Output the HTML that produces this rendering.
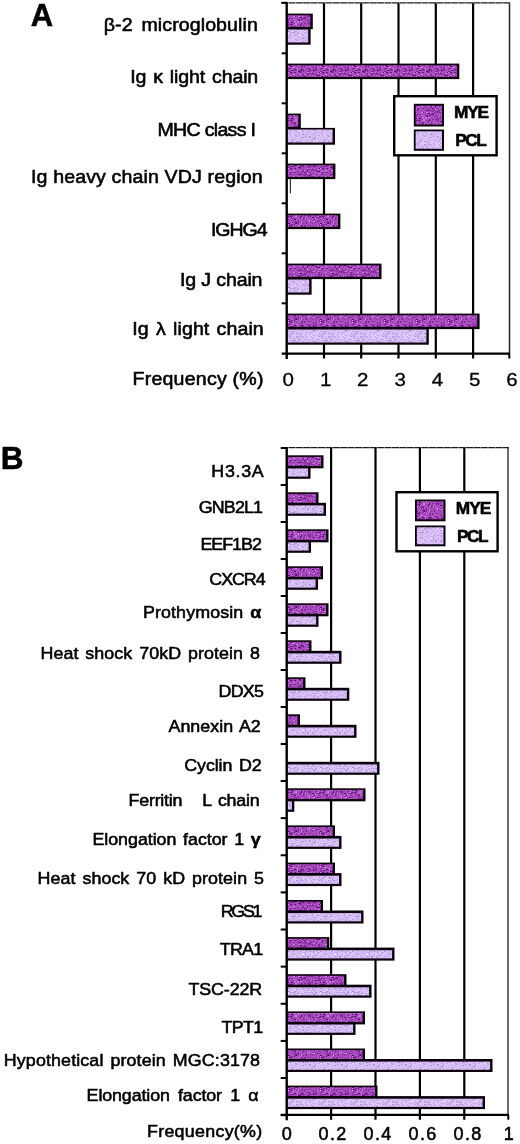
<!DOCTYPE html>
<html lang="en"><head><meta charset="utf-8"><title>Figure</title>
<style>html,body{margin:0;padding:0;background:#fff}body{width:520px;height:1144px;overflow:hidden}text{stroke:#000;stroke-width:.55px;stroke-linejoin:round}text.d{stroke-width:.3px}</style></head>
<body>
<svg width="520" height="1144" viewBox="0 0 520 1144" style="display:block">
<defs>
<pattern id="mye" width="32" height="32" patternUnits="userSpaceOnUse"><rect width="32" height="32" fill="#aa4cc0"/><rect x="20" y="9" width="1" height="1" fill="#7a2890"/><rect x="4" y="6" width="1" height="1" fill="#9a40b4"/><rect x="13" y="2" width="2" height="1" fill="#7c2a94"/><rect x="26" y="4" width="1" height="1" fill="#d088e4"/><rect x="27" y="3" width="1" height="1" fill="#7c2a94"/><rect x="3" y="25" width="1" height="1" fill="#6c1c84"/><rect x="2" y="8" width="2" height="1" fill="#c070d8"/><rect x="9" y="7" width="1" height="1" fill="#c070d8"/><rect x="6" y="12" width="1" height="1" fill="#9a40b4"/><rect x="4" y="3" width="2" height="1" fill="#d088e4"/><rect x="27" y="20" width="2" height="1" fill="#5a1272"/><rect x="23" y="19" width="1" height="1" fill="#d088e4"/><rect x="15" y="5" width="2" height="1" fill="#c070d8"/><rect x="21" y="28" width="1" height="1" fill="#c070d8"/><rect x="7" y="26" width="1" height="1" fill="#8a34a0"/><rect x="9" y="31" width="1" height="1" fill="#7a2890"/><rect x="4" y="20" width="1" height="1" fill="#9a40b4"/><rect x="31" y="29" width="1" height="1" fill="#7c2a94"/><rect x="17" y="30" width="1" height="1" fill="#7c2a94"/><rect x="19" y="28" width="2" height="1" fill="#c070d8"/><rect x="22" y="1" width="1" height="1" fill="#5a1272"/><rect x="10" y="7" width="1" height="1" fill="#5a1272"/><rect x="13" y="18" width="1" height="1" fill="#8a34a0"/><rect x="25" y="25" width="1" height="1" fill="#5a1272"/><rect x="10" y="28" width="1" height="1" fill="#7a2890"/><rect x="8" y="27" width="1" height="1" fill="#b860d0"/><rect x="26" y="22" width="1" height="1" fill="#7a2890"/><rect x="9" y="5" width="1" height="1" fill="#8a34a0"/><rect x="14" y="14" width="2" height="1" fill="#6c1c84"/><rect x="11" y="16" width="1" height="1" fill="#c070d8"/><rect x="9" y="26" width="1" height="1" fill="#b860d0"/><rect x="20" y="8" width="1" height="1" fill="#b860d0"/><rect x="29" y="25" width="2" height="1" fill="#7a2890"/><rect x="25" y="6" width="2" height="1" fill="#5a1272"/><rect x="3" y="12" width="1" height="1" fill="#7c2a94"/><rect x="28" y="10" width="1" height="1" fill="#7c2a94"/><rect x="3" y="6" width="1" height="1" fill="#6c1c84"/><rect x="6" y="23" width="1" height="1" fill="#6c1c84"/><rect x="13" y="24" width="1" height="1" fill="#8a34a0"/><rect x="22" y="23" width="1" height="1" fill="#5a1272"/><rect x="7" y="31" width="2" height="1" fill="#5a1272"/><rect x="30" y="19" width="1" height="1" fill="#7c2a94"/><rect x="6" y="21" width="2" height="1" fill="#c070d8"/><rect x="10" y="1" width="1" height="1" fill="#d088e4"/><rect x="9" y="1" width="1" height="1" fill="#b860d0"/><rect x="5" y="16" width="1" height="1" fill="#b860d0"/><rect x="10" y="22" width="1" height="1" fill="#d088e4"/><rect x="14" y="12" width="2" height="1" fill="#d088e4"/><rect x="14" y="12" width="2" height="1" fill="#b860d0"/><rect x="22" y="1" width="1" height="1" fill="#6c1c84"/><rect x="30" y="16" width="1" height="1" fill="#d088e4"/><rect x="28" y="22" width="1" height="1" fill="#9a40b4"/><rect x="14" y="6" width="2" height="1" fill="#d088e4"/><rect x="12" y="21" width="2" height="1" fill="#d088e4"/><rect x="0" y="30" width="1" height="1" fill="#9a40b4"/><rect x="7" y="24" width="2" height="1" fill="#d088e4"/><rect x="11" y="27" width="1" height="1" fill="#9a40b4"/><rect x="25" y="29" width="1" height="1" fill="#7a2890"/><rect x="10" y="10" width="1" height="1" fill="#8a34a0"/><rect x="9" y="29" width="2" height="1" fill="#8a34a0"/><rect x="22" y="9" width="1" height="1" fill="#b860d0"/><rect x="1" y="0" width="1" height="1" fill="#7c2a94"/><rect x="27" y="12" width="1" height="1" fill="#d088e4"/><rect x="16" y="13" width="1" height="1" fill="#c070d8"/><rect x="20" y="16" width="2" height="1" fill="#b860d0"/><rect x="8" y="3" width="2" height="1" fill="#9a40b4"/><rect x="26" y="8" width="1" height="1" fill="#b860d0"/><rect x="1" y="28" width="1" height="1" fill="#8a34a0"/><rect x="9" y="11" width="2" height="1" fill="#8a34a0"/><rect x="7" y="3" width="2" height="1" fill="#9a40b4"/><rect x="6" y="3" width="1" height="1" fill="#d088e4"/><rect x="17" y="2" width="2" height="1" fill="#7c2a94"/><rect x="1" y="4" width="1" height="1" fill="#5a1272"/><rect x="12" y="17" width="2" height="1" fill="#5a1272"/><rect x="15" y="16" width="1" height="1" fill="#b860d0"/><rect x="28" y="8" width="1" height="1" fill="#7a2890"/><rect x="25" y="28" width="1" height="1" fill="#9a40b4"/><rect x="15" y="27" width="1" height="1" fill="#7c2a94"/><rect x="19" y="7" width="1" height="1" fill="#8a34a0"/><rect x="9" y="16" width="2" height="1" fill="#8a34a0"/><rect x="14" y="6" width="2" height="1" fill="#7a2890"/><rect x="10" y="14" width="2" height="1" fill="#8a34a0"/><rect x="25" y="21" width="1" height="1" fill="#7a2890"/><rect x="22" y="20" width="1" height="1" fill="#7c2a94"/><rect x="1" y="21" width="2" height="1" fill="#b860d0"/><rect x="28" y="1" width="1" height="1" fill="#7a2890"/><rect x="18" y="4" width="1" height="1" fill="#7c2a94"/><rect x="6" y="5" width="1" height="1" fill="#c070d8"/><rect x="2" y="11" width="1" height="1" fill="#c070d8"/><rect x="27" y="16" width="1" height="1" fill="#7a2890"/><rect x="31" y="20" width="1" height="1" fill="#7c2a94"/><rect x="3" y="11" width="1" height="1" fill="#7a2890"/><rect x="17" y="1" width="1" height="1" fill="#7c2a94"/><rect x="5" y="14" width="1" height="1" fill="#7c2a94"/><rect x="7" y="29" width="1" height="1" fill="#6c1c84"/><rect x="26" y="17" width="1" height="1" fill="#8a34a0"/><rect x="15" y="7" width="1" height="1" fill="#8a34a0"/><rect x="3" y="11" width="1" height="1" fill="#d088e4"/><rect x="19" y="13" width="2" height="1" fill="#c070d8"/><rect x="11" y="17" width="1" height="1" fill="#9a40b4"/><rect x="16" y="2" width="1" height="1" fill="#6c1c84"/><rect x="12" y="30" width="2" height="1" fill="#d088e4"/><rect x="6" y="27" width="2" height="1" fill="#5a1272"/><rect x="19" y="13" width="1" height="1" fill="#d088e4"/><rect x="12" y="8" width="1" height="1" fill="#7a2890"/><rect x="3" y="8" width="1" height="1" fill="#6c1c84"/><rect x="16" y="27" width="1" height="1" fill="#8a34a0"/><rect x="5" y="24" width="1" height="1" fill="#b860d0"/><rect x="15" y="18" width="2" height="1" fill="#6c1c84"/><rect x="11" y="10" width="2" height="1" fill="#c070d8"/><rect x="0" y="16" width="1" height="1" fill="#9a40b4"/><rect x="20" y="15" width="1" height="1" fill="#6c1c84"/><rect x="13" y="22" width="1" height="1" fill="#8a34a0"/><rect x="21" y="24" width="2" height="1" fill="#7c2a94"/><rect x="17" y="12" width="1" height="1" fill="#d088e4"/><rect x="5" y="16" width="1" height="1" fill="#7c2a94"/><rect x="25" y="2" width="1" height="1" fill="#7a2890"/><rect x="19" y="19" width="1" height="1" fill="#d088e4"/><rect x="9" y="24" width="2" height="1" fill="#9a40b4"/><rect x="9" y="18" width="1" height="1" fill="#8a34a0"/><rect x="27" y="8" width="1" height="1" fill="#b860d0"/><rect x="14" y="5" width="1" height="1" fill="#6c1c84"/><rect x="8" y="23" width="2" height="1" fill="#7c2a94"/><rect x="28" y="3" width="1" height="1" fill="#6c1c84"/><rect x="31" y="16" width="2" height="1" fill="#6c1c84"/><rect x="4" y="5" width="1" height="1" fill="#b860d0"/><rect x="30" y="16" width="1" height="1" fill="#7c2a94"/><rect x="15" y="13" width="2" height="1" fill="#d088e4"/><rect x="31" y="24" width="2" height="1" fill="#7c2a94"/><rect x="18" y="2" width="1" height="1" fill="#d088e4"/><rect x="9" y="21" width="1" height="1" fill="#c070d8"/><rect x="8" y="0" width="1" height="1" fill="#5a1272"/><rect x="31" y="17" width="1" height="1" fill="#7c2a94"/><rect x="31" y="18" width="1" height="1" fill="#b860d0"/><rect x="29" y="29" width="1" height="1" fill="#5a1272"/><rect x="12" y="19" width="2" height="1" fill="#7c2a94"/><rect x="1" y="18" width="1" height="1" fill="#5a1272"/><rect x="28" y="17" width="1" height="1" fill="#7a2890"/><rect x="13" y="4" width="1" height="1" fill="#7c2a94"/><rect x="16" y="23" width="1" height="1" fill="#8a34a0"/><rect x="7" y="23" width="2" height="1" fill="#d088e4"/><rect x="31" y="25" width="1" height="1" fill="#6c1c84"/><rect x="0" y="31" width="2" height="1" fill="#5a1272"/><rect x="19" y="9" width="1" height="1" fill="#7a2890"/><rect x="24" y="20" width="1" height="1" fill="#7c2a94"/><rect x="0" y="20" width="2" height="1" fill="#9a40b4"/><rect x="7" y="12" width="1" height="1" fill="#6c1c84"/><rect x="16" y="23" width="2" height="1" fill="#7c2a94"/><rect x="24" y="4" width="2" height="1" fill="#9a40b4"/><rect x="17" y="3" width="1" height="1" fill="#c070d8"/><rect x="3" y="18" width="1" height="1" fill="#8a34a0"/><rect x="17" y="27" width="1" height="1" fill="#b860d0"/><rect x="12" y="23" width="1" height="1" fill="#7a2890"/><rect x="25" y="13" width="1" height="1" fill="#7c2a94"/><rect x="26" y="28" width="1" height="1" fill="#8a34a0"/><rect x="31" y="3" width="1" height="1" fill="#b860d0"/><rect x="10" y="30" width="1" height="1" fill="#7a2890"/><rect x="18" y="19" width="1" height="1" fill="#c070d8"/><rect x="25" y="15" width="2" height="1" fill="#c070d8"/><rect x="25" y="7" width="1" height="1" fill="#8a34a0"/><rect x="4" y="13" width="2" height="1" fill="#b860d0"/><rect x="14" y="28" width="2" height="1" fill="#9a40b4"/><rect x="27" y="8" width="1" height="1" fill="#b860d0"/><rect x="15" y="5" width="1" height="1" fill="#8a34a0"/><rect x="5" y="20" width="1" height="1" fill="#d088e4"/><rect x="16" y="12" width="2" height="1" fill="#6c1c84"/><rect x="24" y="26" width="1" height="1" fill="#b860d0"/><rect x="24" y="17" width="1" height="1" fill="#9a40b4"/><rect x="31" y="17" width="1" height="1" fill="#9a40b4"/><rect x="13" y="5" width="1" height="1" fill="#c070d8"/><rect x="24" y="25" width="2" height="1" fill="#5a1272"/><rect x="19" y="1" width="1" height="1" fill="#8a34a0"/><rect x="27" y="30" width="1" height="1" fill="#5a1272"/><rect x="4" y="25" width="2" height="1" fill="#b860d0"/><rect x="28" y="15" width="1" height="1" fill="#7c2a94"/><rect x="9" y="9" width="1" height="1" fill="#b860d0"/><rect x="29" y="5" width="1" height="1" fill="#b860d0"/><rect x="0" y="8" width="1" height="1" fill="#d088e4"/><rect x="19" y="8" width="2" height="1" fill="#c070d8"/><rect x="7" y="6" width="1" height="1" fill="#7c2a94"/><rect x="12" y="24" width="1" height="1" fill="#c070d8"/><rect x="0" y="0" width="1" height="1" fill="#b860d0"/><rect x="29" y="17" width="1" height="1" fill="#9a40b4"/><rect x="30" y="15" width="1" height="1" fill="#b860d0"/><rect x="1" y="26" width="1" height="1" fill="#c070d8"/><rect x="1" y="12" width="2" height="1" fill="#5a1272"/><rect x="5" y="16" width="2" height="1" fill="#d088e4"/><rect x="23" y="14" width="1" height="1" fill="#5a1272"/><rect x="21" y="26" width="2" height="1" fill="#9a40b4"/><rect x="12" y="0" width="1" height="1" fill="#c070d8"/><rect x="13" y="31" width="1" height="1" fill="#d088e4"/><rect x="12" y="14" width="1" height="1" fill="#5a1272"/><rect x="16" y="18" width="2" height="1" fill="#7c2a94"/><rect x="11" y="14" width="2" height="1" fill="#5a1272"/><rect x="3" y="9" width="1" height="1" fill="#7a2890"/><rect x="13" y="1" width="2" height="1" fill="#8a34a0"/><rect x="3" y="3" width="2" height="1" fill="#8a34a0"/><rect x="28" y="20" width="1" height="1" fill="#7c2a94"/><rect x="10" y="21" width="1" height="1" fill="#d088e4"/><rect x="29" y="2" width="2" height="1" fill="#c070d8"/><rect x="23" y="21" width="1" height="1" fill="#5a1272"/><rect x="6" y="0" width="1" height="1" fill="#7c2a94"/><rect x="5" y="22" width="1" height="1" fill="#7a2890"/><rect x="13" y="24" width="1" height="1" fill="#9a40b4"/><rect x="27" y="5" width="2" height="1" fill="#6c1c84"/><rect x="12" y="23" width="2" height="1" fill="#b860d0"/><rect x="12" y="20" width="2" height="1" fill="#9a40b4"/><rect x="1" y="26" width="2" height="1" fill="#d088e4"/><rect x="2" y="24" width="2" height="1" fill="#6c1c84"/><rect x="4" y="3" width="1" height="1" fill="#c070d8"/><rect x="4" y="21" width="1" height="1" fill="#9a40b4"/><rect x="21" y="2" width="1" height="1" fill="#c070d8"/><rect x="17" y="19" width="1" height="1" fill="#6c1c84"/><rect x="1" y="14" width="2" height="1" fill="#7c2a94"/><rect x="29" y="24" width="2" height="1" fill="#c070d8"/><rect x="31" y="8" width="1" height="1" fill="#5a1272"/><rect x="0" y="19" width="1" height="1" fill="#8a34a0"/><rect x="20" y="20" width="1" height="1" fill="#5a1272"/><rect x="5" y="12" width="1" height="1" fill="#7a2890"/><rect x="15" y="26" width="1" height="1" fill="#7c2a94"/><rect x="30" y="20" width="2" height="1" fill="#8a34a0"/><rect x="6" y="4" width="1" height="1" fill="#c070d8"/><rect x="13" y="6" width="2" height="1" fill="#7a2890"/><rect x="28" y="11" width="1" height="1" fill="#d088e4"/><rect x="26" y="29" width="1" height="1" fill="#d088e4"/><rect x="18" y="18" width="1" height="1" fill="#c070d8"/><rect x="23" y="16" width="1" height="1" fill="#c070d8"/><rect x="28" y="15" width="1" height="1" fill="#8a34a0"/><rect x="15" y="9" width="1" height="1" fill="#c070d8"/><rect x="20" y="4" width="1" height="1" fill="#7a2890"/><rect x="15" y="14" width="2" height="1" fill="#7c2a94"/><rect x="2" y="6" width="2" height="1" fill="#6c1c84"/><rect x="14" y="28" width="1" height="1" fill="#9a40b4"/><rect x="18" y="14" width="1" height="1" fill="#7c2a94"/><rect x="12" y="12" width="1" height="1" fill="#7c2a94"/><rect x="11" y="28" width="1" height="1" fill="#c070d8"/><rect x="6" y="22" width="1" height="1" fill="#d088e4"/><rect x="23" y="21" width="1" height="1" fill="#8a34a0"/><rect x="13" y="16" width="1" height="1" fill="#6c1c84"/><rect x="0" y="20" width="1" height="1" fill="#7a2890"/><rect x="11" y="19" width="1" height="1" fill="#7c2a94"/><rect x="2" y="31" width="2" height="1" fill="#b860d0"/><rect x="4" y="26" width="2" height="1" fill="#7c2a94"/><rect x="9" y="5" width="2" height="1" fill="#8a34a0"/><rect x="17" y="26" width="1" height="1" fill="#c070d8"/><rect x="26" y="3" width="1" height="1" fill="#c070d8"/><rect x="26" y="26" width="1" height="1" fill="#6c1c84"/><rect x="12" y="25" width="1" height="1" fill="#7a2890"/><rect x="0" y="27" width="2" height="1" fill="#8a34a0"/><rect x="7" y="5" width="1" height="1" fill="#7a2890"/><rect x="29" y="10" width="1" height="1" fill="#8a34a0"/><rect x="3" y="9" width="1" height="1" fill="#7a2890"/><rect x="23" y="10" width="1" height="1" fill="#8a34a0"/><rect x="18" y="10" width="1" height="1" fill="#b860d0"/><rect x="4" y="6" width="2" height="1" fill="#7a2890"/><rect x="12" y="19" width="1" height="1" fill="#8a34a0"/><rect x="30" y="20" width="2" height="1" fill="#6c1c84"/><rect x="5" y="10" width="2" height="1" fill="#d088e4"/><rect x="12" y="30" width="1" height="1" fill="#8a34a0"/><rect x="2" y="25" width="1" height="1" fill="#b860d0"/><rect x="24" y="22" width="1" height="1" fill="#7c2a94"/><rect x="15" y="12" width="1" height="1" fill="#6c1c84"/><rect x="20" y="7" width="2" height="1" fill="#7a2890"/><rect x="19" y="26" width="1" height="1" fill="#c070d8"/><rect x="27" y="24" width="2" height="1" fill="#9a40b4"/><rect x="28" y="11" width="1" height="1" fill="#6c1c84"/><rect x="31" y="29" width="2" height="1" fill="#d088e4"/><rect x="29" y="11" width="2" height="1" fill="#5a1272"/><rect x="6" y="4" width="1" height="1" fill="#8a34a0"/><rect x="27" y="23" width="2" height="1" fill="#7c2a94"/><rect x="2" y="2" width="1" height="1" fill="#8a34a0"/><rect x="20" y="5" width="2" height="1" fill="#6c1c84"/><rect x="8" y="1" width="1" height="1" fill="#7c2a94"/><rect x="12" y="8" width="1" height="1" fill="#5a1272"/><rect x="10" y="14" width="1" height="1" fill="#7c2a94"/><rect x="16" y="10" width="1" height="1" fill="#9a40b4"/><rect x="29" y="9" width="2" height="1" fill="#c070d8"/><rect x="13" y="16" width="1" height="1" fill="#b860d0"/><rect x="20" y="23" width="1" height="1" fill="#6c1c84"/><rect x="11" y="25" width="1" height="1" fill="#8a34a0"/><rect x="20" y="24" width="1" height="1" fill="#8a34a0"/><rect x="7" y="3" width="2" height="1" fill="#9a40b4"/><rect x="6" y="16" width="2" height="1" fill="#b860d0"/><rect x="23" y="16" width="1" height="1" fill="#7a2890"/><rect x="9" y="23" width="1" height="1" fill="#9a40b4"/><rect x="28" y="14" width="1" height="1" fill="#8a34a0"/><rect x="18" y="16" width="1" height="1" fill="#c070d8"/><rect x="0" y="2" width="1" height="1" fill="#d088e4"/><rect x="18" y="27" width="1" height="1" fill="#7a2890"/><rect x="3" y="8" width="1" height="1" fill="#5a1272"/><rect x="2" y="1" width="1" height="1" fill="#6c1c84"/><rect x="22" y="19" width="1" height="1" fill="#7c2a94"/><rect x="14" y="26" width="1" height="1" fill="#c070d8"/><rect x="13" y="23" width="1" height="1" fill="#5a1272"/><rect x="8" y="0" width="1" height="1" fill="#d088e4"/><rect x="28" y="6" width="1" height="1" fill="#7c2a94"/><rect x="17" y="25" width="1" height="1" fill="#c070d8"/><rect x="3" y="22" width="2" height="1" fill="#5a1272"/><rect x="15" y="10" width="1" height="1" fill="#6c1c84"/><rect x="3" y="1" width="1" height="1" fill="#7a2890"/><rect x="15" y="10" width="1" height="1" fill="#6c1c84"/><rect x="0" y="12" width="2" height="1" fill="#8a34a0"/><rect x="12" y="26" width="1" height="1" fill="#8a34a0"/><rect x="4" y="19" width="2" height="1" fill="#6c1c84"/><rect x="0" y="24" width="2" height="1" fill="#7a2890"/><rect x="5" y="28" width="1" height="1" fill="#8a34a0"/><rect x="6" y="16" width="1" height="1" fill="#d088e4"/><rect x="7" y="21" width="1" height="1" fill="#c070d8"/><rect x="17" y="27" width="1" height="1" fill="#b860d0"/><rect x="18" y="13" width="1" height="1" fill="#7c2a94"/><rect x="10" y="16" width="1" height="1" fill="#d088e4"/><rect x="10" y="20" width="2" height="1" fill="#d088e4"/><rect x="21" y="15" width="2" height="1" fill="#7a2890"/><rect x="30" y="0" width="2" height="1" fill="#6c1c84"/><rect x="14" y="19" width="2" height="1" fill="#d088e4"/><rect x="4" y="10" width="1" height="1" fill="#8a34a0"/><rect x="1" y="7" width="1" height="1" fill="#7c2a94"/><rect x="22" y="9" width="1" height="1" fill="#6c1c84"/><rect x="2" y="8" width="1" height="1" fill="#6c1c84"/><rect x="2" y="4" width="1" height="1" fill="#9a40b4"/><rect x="4" y="24" width="1" height="1" fill="#7c2a94"/><rect x="13" y="13" width="1" height="1" fill="#7c2a94"/><rect x="2" y="5" width="2" height="1" fill="#c070d8"/><rect x="6" y="8" width="1" height="1" fill="#7c2a94"/><rect x="18" y="20" width="2" height="1" fill="#9a40b4"/><rect x="16" y="1" width="1" height="1" fill="#9a40b4"/><rect x="18" y="3" width="1" height="1" fill="#9a40b4"/><rect x="30" y="18" width="2" height="1" fill="#6c1c84"/><rect x="1" y="27" width="1" height="1" fill="#b860d0"/><rect x="22" y="30" width="1" height="1" fill="#6c1c84"/><rect x="5" y="18" width="2" height="1" fill="#8a34a0"/><rect x="0" y="12" width="1" height="1" fill="#c070d8"/><rect x="0" y="22" width="1" height="1" fill="#5a1272"/><rect x="31" y="11" width="1" height="1" fill="#5a1272"/><rect x="16" y="10" width="1" height="1" fill="#c070d8"/><rect x="14" y="31" width="1" height="1" fill="#8a34a0"/><rect x="5" y="31" width="1" height="1" fill="#b860d0"/><rect x="20" y="22" width="2" height="1" fill="#7c2a94"/><rect x="25" y="5" width="1" height="1" fill="#7a2890"/><rect x="23" y="13" width="1" height="1" fill="#c070d8"/><rect x="27" y="10" width="1" height="1" fill="#7a2890"/><rect x="29" y="8" width="1" height="1" fill="#b860d0"/><rect x="22" y="20" width="1" height="1" fill="#b860d0"/><rect x="28" y="20" width="2" height="1" fill="#8a34a0"/><rect x="28" y="16" width="1" height="1" fill="#d088e4"/><rect x="21" y="29" width="1" height="1" fill="#d088e4"/><rect x="17" y="19" width="1" height="1" fill="#8a34a0"/><rect x="15" y="20" width="1" height="1" fill="#b860d0"/><rect x="10" y="15" width="1" height="1" fill="#9a40b4"/><rect x="16" y="6" width="1" height="1" fill="#8a34a0"/><rect x="12" y="24" width="1" height="1" fill="#8a34a0"/><rect x="19" y="19" width="1" height="1" fill="#7a2890"/><rect x="12" y="6" width="1" height="1" fill="#7c2a94"/><rect x="13" y="24" width="1" height="1" fill="#5a1272"/><rect x="0" y="25" width="1" height="1" fill="#7a2890"/><rect x="18" y="29" width="1" height="1" fill="#6c1c84"/><rect x="16" y="25" width="1" height="1" fill="#6c1c84"/><rect x="27" y="26" width="1" height="1" fill="#d088e4"/><rect x="11" y="7" width="2" height="1" fill="#5a1272"/><rect x="20" y="16" width="2" height="1" fill="#7c2a94"/><rect x="15" y="25" width="1" height="1" fill="#8a34a0"/><rect x="27" y="30" width="1" height="1" fill="#5a1272"/><rect x="26" y="11" width="1" height="1" fill="#9a40b4"/><rect x="24" y="31" width="1" height="1" fill="#7c2a94"/><rect x="16" y="13" width="1" height="1" fill="#8a34a0"/><rect x="22" y="6" width="1" height="1" fill="#5a1272"/><rect x="30" y="1" width="1" height="1" fill="#9a40b4"/><rect x="26" y="29" width="1" height="1" fill="#d088e4"/><rect x="25" y="7" width="1" height="1" fill="#9a40b4"/><rect x="16" y="17" width="2" height="1" fill="#7a2890"/><rect x="3" y="0" width="2" height="1" fill="#7c2a94"/><rect x="26" y="22" width="1" height="1" fill="#c070d8"/><rect x="14" y="19" width="1" height="1" fill="#7a2890"/><rect x="25" y="29" width="1" height="1" fill="#d088e4"/><rect x="8" y="4" width="2" height="1" fill="#d088e4"/><rect x="14" y="9" width="2" height="1" fill="#9a40b4"/><rect x="29" y="18" width="1" height="1" fill="#b860d0"/><rect x="30" y="22" width="1" height="1" fill="#d088e4"/><rect x="24" y="16" width="1" height="1" fill="#7a2890"/><rect x="30" y="0" width="1" height="1" fill="#c070d8"/><rect x="15" y="19" width="2" height="1" fill="#9a40b4"/><rect x="31" y="27" width="1" height="1" fill="#7c2a94"/><rect x="9" y="19" width="1" height="1" fill="#7a2890"/><rect x="5" y="20" width="1" height="1" fill="#8a34a0"/><rect x="0" y="0" width="1" height="1" fill="#d088e4"/><rect x="18" y="16" width="1" height="1" fill="#7c2a94"/><rect x="14" y="11" width="1" height="1" fill="#5a1272"/><rect x="9" y="13" width="1" height="1" fill="#7a2890"/><rect x="5" y="19" width="2" height="1" fill="#d088e4"/><rect x="13" y="5" width="1" height="1" fill="#5a1272"/><rect x="7" y="16" width="1" height="1" fill="#7a2890"/><rect x="8" y="30" width="1" height="1" fill="#5a1272"/><rect x="30" y="29" width="2" height="1" fill="#8a34a0"/><rect x="15" y="31" width="1" height="1" fill="#8a34a0"/><rect x="10" y="20" width="2" height="1" fill="#5a1272"/><rect x="18" y="29" width="2" height="1" fill="#9a40b4"/><rect x="26" y="4" width="1" height="1" fill="#8a34a0"/><rect x="1" y="1" width="1" height="1" fill="#6c1c84"/><rect x="6" y="30" width="1" height="1" fill="#5a1272"/><rect x="2" y="13" width="1" height="1" fill="#7a2890"/><rect x="21" y="6" width="1" height="1" fill="#9a40b4"/><rect x="30" y="13" width="2" height="1" fill="#c070d8"/><rect x="21" y="27" width="1" height="1" fill="#c070d8"/><rect x="18" y="18" width="2" height="1" fill="#9a40b4"/><rect x="25" y="21" width="1" height="1" fill="#b860d0"/><rect x="22" y="13" width="1" height="1" fill="#5a1272"/><rect x="21" y="12" width="1" height="1" fill="#9a40b4"/><rect x="8" y="5" width="2" height="1" fill="#6c1c84"/><rect x="25" y="3" width="1" height="1" fill="#7a2890"/><rect x="6" y="0" width="1" height="1" fill="#6c1c84"/><rect x="30" y="3" width="2" height="1" fill="#b860d0"/><rect x="9" y="5" width="1" height="1" fill="#d088e4"/><rect x="29" y="11" width="1" height="1" fill="#7c2a94"/><rect x="2" y="26" width="1" height="1" fill="#7c2a94"/><rect x="23" y="8" width="1" height="1" fill="#c070d8"/><rect x="19" y="11" width="1" height="1" fill="#7a2890"/><rect x="20" y="1" width="1" height="1" fill="#7a2890"/><rect x="31" y="2" width="2" height="1" fill="#7c2a94"/><rect x="25" y="28" width="1" height="1" fill="#7c2a94"/><rect x="24" y="9" width="2" height="1" fill="#5a1272"/><rect x="6" y="5" width="1" height="1" fill="#5a1272"/><rect x="9" y="0" width="1" height="1" fill="#7a2890"/><rect x="0" y="7" width="1" height="1" fill="#7c2a94"/><rect x="7" y="8" width="1" height="1" fill="#5a1272"/><rect x="17" y="15" width="1" height="1" fill="#5a1272"/><rect x="3" y="23" width="1" height="1" fill="#8a34a0"/><rect x="18" y="31" width="1" height="1" fill="#5a1272"/><rect x="3" y="2" width="1" height="1" fill="#6c1c84"/><rect x="0" y="5" width="1" height="1" fill="#7a2890"/><rect x="19" y="10" width="1" height="1" fill="#5a1272"/></pattern>
<pattern id="pcl" width="32" height="32" patternUnits="userSpaceOnUse"><rect width="32" height="32" fill="#d8c0f7"/><rect x="20" y="23" width="2" height="1" fill="#ceb2f2"/><rect x="30" y="10" width="1" height="1" fill="#c4a8ee"/><rect x="23" y="10" width="2" height="1" fill="#bca0ea"/><rect x="30" y="24" width="2" height="1" fill="#e0d0fa"/><rect x="17" y="21" width="1" height="1" fill="#e8dcfc"/><rect x="3" y="21" width="1" height="1" fill="#e0d0fa"/><rect x="9" y="19" width="2" height="1" fill="#ceb2f2"/><rect x="15" y="24" width="2" height="1" fill="#a888e0"/><rect x="14" y="28" width="1" height="1" fill="#e8dcfc"/><rect x="20" y="16" width="2" height="1" fill="#e8dcfc"/><rect x="10" y="2" width="1" height="1" fill="#e8dcfc"/><rect x="9" y="17" width="2" height="1" fill="#e0d0fa"/><rect x="22" y="5" width="2" height="1" fill="#ceb2f2"/><rect x="24" y="12" width="1" height="1" fill="#e0d0fa"/><rect x="19" y="3" width="2" height="1" fill="#bca0ea"/><rect x="29" y="13" width="1" height="1" fill="#e8dcfc"/><rect x="24" y="29" width="1" height="1" fill="#ceb2f2"/><rect x="22" y="4" width="2" height="1" fill="#c4a8ee"/><rect x="16" y="20" width="1" height="1" fill="#a888e0"/><rect x="12" y="13" width="1" height="1" fill="#c4a8ee"/><rect x="11" y="18" width="1" height="1" fill="#e8dcfc"/><rect x="25" y="9" width="1" height="1" fill="#c4a8ee"/><rect x="31" y="23" width="1" height="1" fill="#e0d0fa"/><rect x="23" y="29" width="1" height="1" fill="#e0d0fa"/><rect x="9" y="20" width="1" height="1" fill="#ceb2f2"/><rect x="22" y="17" width="1" height="1" fill="#ceb2f2"/><rect x="6" y="2" width="2" height="1" fill="#c4a8ee"/><rect x="13" y="16" width="1" height="1" fill="#e0d0fa"/><rect x="27" y="6" width="1" height="1" fill="#a888e0"/><rect x="16" y="2" width="1" height="1" fill="#e8dcfc"/><rect x="11" y="24" width="1" height="1" fill="#b494e6"/><rect x="3" y="2" width="1" height="1" fill="#ceb2f2"/><rect x="29" y="31" width="1" height="1" fill="#e0d0fa"/><rect x="25" y="7" width="1" height="1" fill="#bca0ea"/><rect x="16" y="20" width="1" height="1" fill="#ceb2f2"/><rect x="5" y="25" width="2" height="1" fill="#c4a8ee"/><rect x="10" y="23" width="1" height="1" fill="#c4a8ee"/><rect x="11" y="2" width="1" height="1" fill="#e8dcfc"/><rect x="3" y="1" width="1" height="1" fill="#e0d0fa"/><rect x="16" y="30" width="1" height="1" fill="#b494e6"/><rect x="9" y="20" width="1" height="1" fill="#e0d0fa"/><rect x="12" y="19" width="2" height="1" fill="#ceb2f2"/><rect x="6" y="30" width="1" height="1" fill="#e8dcfc"/><rect x="16" y="24" width="1" height="1" fill="#b494e6"/><rect x="30" y="24" width="2" height="1" fill="#c4a8ee"/><rect x="15" y="9" width="1" height="1" fill="#bca0ea"/><rect x="29" y="12" width="1" height="1" fill="#e0d0fa"/><rect x="10" y="14" width="1" height="1" fill="#b494e6"/><rect x="8" y="28" width="2" height="1" fill="#b494e6"/><rect x="1" y="4" width="1" height="1" fill="#a888e0"/><rect x="20" y="14" width="1" height="1" fill="#a888e0"/><rect x="23" y="9" width="1" height="1" fill="#e8dcfc"/><rect x="3" y="11" width="2" height="1" fill="#bca0ea"/><rect x="9" y="28" width="1" height="1" fill="#e0d0fa"/><rect x="17" y="26" width="1" height="1" fill="#a888e0"/><rect x="9" y="1" width="1" height="1" fill="#e8dcfc"/><rect x="21" y="10" width="2" height="1" fill="#e8dcfc"/><rect x="6" y="20" width="2" height="1" fill="#a888e0"/><rect x="7" y="9" width="1" height="1" fill="#ceb2f2"/><rect x="13" y="30" width="1" height="1" fill="#e0d0fa"/><rect x="7" y="16" width="1" height="1" fill="#e0d0fa"/><rect x="23" y="27" width="1" height="1" fill="#e8dcfc"/><rect x="15" y="6" width="1" height="1" fill="#a888e0"/><rect x="26" y="10" width="1" height="1" fill="#b494e6"/><rect x="9" y="1" width="1" height="1" fill="#a888e0"/><rect x="8" y="28" width="1" height="1" fill="#b494e6"/><rect x="11" y="23" width="1" height="1" fill="#a888e0"/><rect x="26" y="13" width="1" height="1" fill="#e8dcfc"/><rect x="8" y="11" width="1" height="1" fill="#ceb2f2"/><rect x="11" y="12" width="1" height="1" fill="#ceb2f2"/><rect x="5" y="31" width="1" height="1" fill="#e0d0fa"/><rect x="11" y="13" width="1" height="1" fill="#c4a8ee"/><rect x="19" y="12" width="1" height="1" fill="#b494e6"/><rect x="26" y="3" width="1" height="1" fill="#ceb2f2"/><rect x="21" y="18" width="2" height="1" fill="#e0d0fa"/><rect x="5" y="0" width="2" height="1" fill="#a888e0"/><rect x="8" y="17" width="1" height="1" fill="#c4a8ee"/><rect x="23" y="2" width="1" height="1" fill="#c4a8ee"/><rect x="0" y="22" width="2" height="1" fill="#ceb2f2"/><rect x="4" y="7" width="1" height="1" fill="#e8dcfc"/><rect x="20" y="24" width="1" height="1" fill="#ceb2f2"/><rect x="18" y="6" width="2" height="1" fill="#bca0ea"/><rect x="28" y="1" width="1" height="1" fill="#ceb2f2"/><rect x="1" y="15" width="1" height="1" fill="#b494e6"/><rect x="11" y="10" width="1" height="1" fill="#b494e6"/><rect x="16" y="1" width="1" height="1" fill="#b494e6"/><rect x="12" y="16" width="2" height="1" fill="#b494e6"/><rect x="15" y="28" width="1" height="1" fill="#b494e6"/><rect x="6" y="11" width="1" height="1" fill="#b494e6"/><rect x="7" y="29" width="1" height="1" fill="#a888e0"/><rect x="7" y="7" width="2" height="1" fill="#b494e6"/><rect x="8" y="14" width="1" height="1" fill="#e0d0fa"/><rect x="9" y="29" width="2" height="1" fill="#bca0ea"/><rect x="10" y="1" width="2" height="1" fill="#bca0ea"/><rect x="26" y="2" width="1" height="1" fill="#a888e0"/><rect x="23" y="21" width="1" height="1" fill="#a888e0"/><rect x="21" y="27" width="1" height="1" fill="#e0d0fa"/><rect x="25" y="3" width="1" height="1" fill="#e8dcfc"/><rect x="22" y="15" width="2" height="1" fill="#e0d0fa"/><rect x="0" y="23" width="1" height="1" fill="#b494e6"/><rect x="4" y="20" width="1" height="1" fill="#a888e0"/><rect x="1" y="14" width="2" height="1" fill="#c4a8ee"/><rect x="25" y="29" width="1" height="1" fill="#bca0ea"/><rect x="2" y="2" width="1" height="1" fill="#e0d0fa"/><rect x="17" y="2" width="1" height="1" fill="#ceb2f2"/><rect x="16" y="7" width="1" height="1" fill="#ceb2f2"/><rect x="27" y="15" width="1" height="1" fill="#b494e6"/><rect x="7" y="19" width="1" height="1" fill="#e8dcfc"/><rect x="7" y="3" width="1" height="1" fill="#ceb2f2"/><rect x="5" y="29" width="1" height="1" fill="#ceb2f2"/><rect x="28" y="7" width="1" height="1" fill="#ceb2f2"/><rect x="18" y="26" width="1" height="1" fill="#ceb2f2"/><rect x="17" y="15" width="1" height="1" fill="#bca0ea"/><rect x="18" y="29" width="1" height="1" fill="#ceb2f2"/><rect x="24" y="12" width="1" height="1" fill="#ceb2f2"/><rect x="29" y="19" width="2" height="1" fill="#ceb2f2"/><rect x="30" y="19" width="1" height="1" fill="#b494e6"/><rect x="21" y="14" width="2" height="1" fill="#c4a8ee"/><rect x="25" y="0" width="1" height="1" fill="#e8dcfc"/><rect x="15" y="20" width="1" height="1" fill="#ceb2f2"/><rect x="31" y="17" width="1" height="1" fill="#e8dcfc"/><rect x="18" y="3" width="1" height="1" fill="#e0d0fa"/><rect x="10" y="4" width="1" height="1" fill="#ceb2f2"/><rect x="28" y="3" width="2" height="1" fill="#ceb2f2"/><rect x="28" y="22" width="1" height="1" fill="#bca0ea"/><rect x="14" y="9" width="1" height="1" fill="#a888e0"/><rect x="22" y="8" width="1" height="1" fill="#bca0ea"/><rect x="17" y="6" width="2" height="1" fill="#bca0ea"/><rect x="17" y="8" width="1" height="1" fill="#a888e0"/><rect x="0" y="26" width="1" height="1" fill="#e0d0fa"/><rect x="31" y="25" width="1" height="1" fill="#ceb2f2"/><rect x="26" y="17" width="1" height="1" fill="#e0d0fa"/><rect x="24" y="28" width="2" height="1" fill="#bca0ea"/><rect x="18" y="22" width="1" height="1" fill="#e8dcfc"/><rect x="25" y="24" width="1" height="1" fill="#bca0ea"/><rect x="0" y="31" width="2" height="1" fill="#a888e0"/><rect x="19" y="11" width="1" height="1" fill="#ceb2f2"/><rect x="9" y="27" width="2" height="1" fill="#ceb2f2"/><rect x="14" y="5" width="1" height="1" fill="#e0d0fa"/><rect x="20" y="15" width="1" height="1" fill="#e8dcfc"/><rect x="27" y="0" width="1" height="1" fill="#b494e6"/><rect x="16" y="31" width="1" height="1" fill="#e8dcfc"/><rect x="27" y="27" width="2" height="1" fill="#a888e0"/><rect x="22" y="2" width="1" height="1" fill="#ceb2f2"/><rect x="28" y="0" width="1" height="1" fill="#bca0ea"/><rect x="14" y="6" width="1" height="1" fill="#a888e0"/><rect x="25" y="9" width="2" height="1" fill="#c4a8ee"/><rect x="31" y="25" width="1" height="1" fill="#a888e0"/><rect x="5" y="10" width="1" height="1" fill="#e8dcfc"/><rect x="23" y="4" width="1" height="1" fill="#e0d0fa"/><rect x="11" y="7" width="1" height="1" fill="#bca0ea"/><rect x="21" y="26" width="1" height="1" fill="#bca0ea"/><rect x="18" y="13" width="1" height="1" fill="#ceb2f2"/><rect x="26" y="11" width="1" height="1" fill="#b494e6"/><rect x="22" y="2" width="2" height="1" fill="#bca0ea"/><rect x="0" y="0" width="1" height="1" fill="#e8dcfc"/><rect x="19" y="25" width="1" height="1" fill="#e0d0fa"/><rect x="0" y="1" width="1" height="1" fill="#c4a8ee"/><rect x="31" y="17" width="1" height="1" fill="#e0d0fa"/><rect x="12" y="26" width="1" height="1" fill="#ceb2f2"/><rect x="9" y="10" width="1" height="1" fill="#ceb2f2"/><rect x="1" y="6" width="1" height="1" fill="#b494e6"/><rect x="31" y="29" width="2" height="1" fill="#ceb2f2"/><rect x="3" y="0" width="1" height="1" fill="#bca0ea"/><rect x="9" y="15" width="1" height="1" fill="#e8dcfc"/><rect x="10" y="2" width="1" height="1" fill="#e8dcfc"/><rect x="4" y="22" width="2" height="1" fill="#c4a8ee"/><rect x="24" y="1" width="1" height="1" fill="#b494e6"/><rect x="25" y="2" width="1" height="1" fill="#a888e0"/><rect x="15" y="15" width="1" height="1" fill="#c4a8ee"/><rect x="10" y="11" width="1" height="1" fill="#e8dcfc"/><rect x="29" y="19" width="1" height="1" fill="#a888e0"/><rect x="31" y="4" width="2" height="1" fill="#c4a8ee"/><rect x="14" y="26" width="2" height="1" fill="#e8dcfc"/><rect x="31" y="1" width="1" height="1" fill="#e0d0fa"/><rect x="5" y="11" width="1" height="1" fill="#c4a8ee"/><rect x="24" y="11" width="1" height="1" fill="#b494e6"/><rect x="25" y="23" width="1" height="1" fill="#b494e6"/><rect x="24" y="21" width="1" height="1" fill="#a888e0"/><rect x="7" y="27" width="1" height="1" fill="#e0d0fa"/><rect x="15" y="24" width="2" height="1" fill="#c4a8ee"/><rect x="18" y="22" width="2" height="1" fill="#c4a8ee"/><rect x="2" y="17" width="1" height="1" fill="#bca0ea"/><rect x="21" y="9" width="1" height="1" fill="#c4a8ee"/><rect x="5" y="12" width="1" height="1" fill="#e8dcfc"/><rect x="28" y="29" width="1" height="1" fill="#e0d0fa"/><rect x="10" y="23" width="1" height="1" fill="#e8dcfc"/><rect x="25" y="24" width="1" height="1" fill="#bca0ea"/><rect x="19" y="30" width="1" height="1" fill="#ceb2f2"/><rect x="14" y="28" width="1" height="1" fill="#bca0ea"/><rect x="16" y="28" width="1" height="1" fill="#ceb2f2"/><rect x="15" y="25" width="1" height="1" fill="#ceb2f2"/><rect x="8" y="7" width="1" height="1" fill="#bca0ea"/><rect x="17" y="24" width="1" height="1" fill="#b494e6"/><rect x="19" y="0" width="1" height="1" fill="#a888e0"/><rect x="11" y="14" width="1" height="1" fill="#e8dcfc"/><rect x="6" y="4" width="1" height="1" fill="#ceb2f2"/><rect x="19" y="12" width="1" height="1" fill="#b494e6"/><rect x="5" y="14" width="1" height="1" fill="#e8dcfc"/><rect x="25" y="18" width="2" height="1" fill="#e8dcfc"/><rect x="29" y="8" width="1" height="1" fill="#e8dcfc"/><rect x="1" y="23" width="1" height="1" fill="#bca0ea"/><rect x="26" y="1" width="2" height="1" fill="#bca0ea"/><rect x="15" y="25" width="1" height="1" fill="#e8dcfc"/><rect x="11" y="18" width="1" height="1" fill="#b494e6"/><rect x="14" y="2" width="1" height="1" fill="#a888e0"/><rect x="10" y="27" width="1" height="1" fill="#c4a8ee"/><rect x="9" y="24" width="1" height="1" fill="#bca0ea"/><rect x="19" y="11" width="1" height="1" fill="#ceb2f2"/><rect x="31" y="16" width="1" height="1" fill="#a888e0"/><rect x="0" y="7" width="1" height="1" fill="#e0d0fa"/><rect x="2" y="3" width="1" height="1" fill="#c4a8ee"/><rect x="2" y="20" width="1" height="1" fill="#c4a8ee"/><rect x="5" y="26" width="2" height="1" fill="#bca0ea"/><rect x="14" y="17" width="1" height="1" fill="#ceb2f2"/><rect x="22" y="27" width="1" height="1" fill="#a888e0"/><rect x="28" y="3" width="1" height="1" fill="#bca0ea"/><rect x="27" y="8" width="1" height="1" fill="#a888e0"/><rect x="2" y="16" width="1" height="1" fill="#c4a8ee"/><rect x="15" y="16" width="1" height="1" fill="#c4a8ee"/><rect x="10" y="22" width="2" height="1" fill="#e8dcfc"/><rect x="5" y="12" width="1" height="1" fill="#bca0ea"/><rect x="8" y="8" width="2" height="1" fill="#bca0ea"/><rect x="30" y="15" width="1" height="1" fill="#bca0ea"/><rect x="0" y="28" width="1" height="1" fill="#c4a8ee"/><rect x="19" y="8" width="1" height="1" fill="#bca0ea"/><rect x="15" y="21" width="1" height="1" fill="#bca0ea"/><rect x="27" y="10" width="1" height="1" fill="#bca0ea"/><rect x="29" y="25" width="1" height="1" fill="#e0d0fa"/><rect x="7" y="18" width="1" height="1" fill="#b494e6"/><rect x="31" y="13" width="1" height="1" fill="#b494e6"/><rect x="17" y="19" width="1" height="1" fill="#c4a8ee"/><rect x="19" y="28" width="1" height="1" fill="#b494e6"/><rect x="20" y="28" width="1" height="1" fill="#a888e0"/><rect x="18" y="10" width="1" height="1" fill="#ceb2f2"/><rect x="2" y="0" width="2" height="1" fill="#a888e0"/><rect x="5" y="21" width="1" height="1" fill="#bca0ea"/><rect x="6" y="31" width="2" height="1" fill="#a888e0"/><rect x="12" y="20" width="1" height="1" fill="#b494e6"/><rect x="5" y="18" width="1" height="1" fill="#bca0ea"/><rect x="15" y="5" width="1" height="1" fill="#c4a8ee"/><rect x="1" y="25" width="1" height="1" fill="#e0d0fa"/><rect x="18" y="23" width="1" height="1" fill="#c4a8ee"/><rect x="6" y="19" width="1" height="1" fill="#bca0ea"/><rect x="24" y="11" width="1" height="1" fill="#bca0ea"/><rect x="20" y="14" width="1" height="1" fill="#e8dcfc"/><rect x="23" y="16" width="1" height="1" fill="#c4a8ee"/><rect x="2" y="6" width="2" height="1" fill="#ceb2f2"/><rect x="3" y="13" width="2" height="1" fill="#a888e0"/><rect x="31" y="10" width="1" height="1" fill="#e8dcfc"/><rect x="9" y="14" width="1" height="1" fill="#c4a8ee"/><rect x="28" y="25" width="1" height="1" fill="#b494e6"/><rect x="28" y="30" width="1" height="1" fill="#c4a8ee"/><rect x="23" y="0" width="2" height="1" fill="#b494e6"/><rect x="9" y="18" width="1" height="1" fill="#b494e6"/><rect x="26" y="21" width="2" height="1" fill="#b494e6"/><rect x="0" y="11" width="1" height="1" fill="#bca0ea"/><rect x="24" y="18" width="2" height="1" fill="#b494e6"/><rect x="22" y="12" width="1" height="1" fill="#a888e0"/><rect x="20" y="29" width="1" height="1" fill="#a888e0"/><rect x="25" y="5" width="1" height="1" fill="#e0d0fa"/><rect x="21" y="19" width="2" height="1" fill="#ceb2f2"/><rect x="23" y="30" width="1" height="1" fill="#bca0ea"/><rect x="19" y="21" width="1" height="1" fill="#ceb2f2"/><rect x="12" y="14" width="2" height="1" fill="#bca0ea"/><rect x="5" y="9" width="1" height="1" fill="#bca0ea"/><rect x="26" y="23" width="1" height="1" fill="#ceb2f2"/><rect x="28" y="25" width="1" height="1" fill="#e8dcfc"/><rect x="14" y="11" width="1" height="1" fill="#c4a8ee"/><rect x="14" y="16" width="1" height="1" fill="#bca0ea"/><rect x="12" y="16" width="2" height="1" fill="#bca0ea"/><rect x="14" y="29" width="1" height="1" fill="#c4a8ee"/><rect x="5" y="26" width="1" height="1" fill="#bca0ea"/><rect x="28" y="8" width="1" height="1" fill="#e0d0fa"/><rect x="6" y="29" width="2" height="1" fill="#e0d0fa"/><rect x="10" y="12" width="2" height="1" fill="#ceb2f2"/><rect x="5" y="8" width="1" height="1" fill="#e8dcfc"/><rect x="25" y="15" width="1" height="1" fill="#b494e6"/><rect x="2" y="0" width="1" height="1" fill="#bca0ea"/><rect x="29" y="19" width="1" height="1" fill="#b494e6"/><rect x="27" y="5" width="1" height="1" fill="#ceb2f2"/><rect x="7" y="22" width="1" height="1" fill="#c4a8ee"/><rect x="21" y="0" width="1" height="1" fill="#e0d0fa"/><rect x="7" y="15" width="1" height="1" fill="#e8dcfc"/><rect x="31" y="2" width="1" height="1" fill="#e0d0fa"/><rect x="6" y="22" width="1" height="1" fill="#ceb2f2"/><rect x="7" y="2" width="1" height="1" fill="#bca0ea"/><rect x="16" y="22" width="2" height="1" fill="#c4a8ee"/><rect x="1" y="28" width="1" height="1" fill="#b494e6"/><rect x="31" y="7" width="1" height="1" fill="#b494e6"/><rect x="11" y="9" width="1" height="1" fill="#ceb2f2"/><rect x="24" y="9" width="1" height="1" fill="#ceb2f2"/><rect x="17" y="28" width="1" height="1" fill="#b494e6"/><rect x="21" y="9" width="2" height="1" fill="#a888e0"/><rect x="2" y="2" width="1" height="1" fill="#b494e6"/><rect x="25" y="30" width="2" height="1" fill="#c4a8ee"/><rect x="25" y="14" width="1" height="1" fill="#e0d0fa"/><rect x="23" y="21" width="1" height="1" fill="#ceb2f2"/><rect x="19" y="8" width="1" height="1" fill="#ceb2f2"/><rect x="13" y="10" width="1" height="1" fill="#e0d0fa"/><rect x="29" y="21" width="2" height="1" fill="#ceb2f2"/><rect x="24" y="22" width="1" height="1" fill="#e8dcfc"/><rect x="21" y="30" width="1" height="1" fill="#e8dcfc"/><rect x="1" y="15" width="1" height="1" fill="#a888e0"/><rect x="9" y="9" width="2" height="1" fill="#e8dcfc"/><rect x="17" y="4" width="1" height="1" fill="#ceb2f2"/><rect x="22" y="8" width="1" height="1" fill="#bca0ea"/><rect x="6" y="12" width="2" height="1" fill="#e0d0fa"/><rect x="6" y="23" width="1" height="1" fill="#e0d0fa"/><rect x="15" y="9" width="1" height="1" fill="#bca0ea"/><rect x="19" y="21" width="1" height="1" fill="#bca0ea"/><rect x="15" y="22" width="2" height="1" fill="#e0d0fa"/><rect x="21" y="3" width="1" height="1" fill="#bca0ea"/><rect x="20" y="30" width="1" height="1" fill="#ceb2f2"/><rect x="15" y="15" width="1" height="1" fill="#e8dcfc"/><rect x="8" y="13" width="2" height="1" fill="#b494e6"/><rect x="25" y="28" width="1" height="1" fill="#a888e0"/><rect x="10" y="4" width="1" height="1" fill="#c4a8ee"/><rect x="19" y="16" width="1" height="1" fill="#bca0ea"/><rect x="4" y="12" width="1" height="1" fill="#ceb2f2"/><rect x="11" y="19" width="1" height="1" fill="#ceb2f2"/><rect x="29" y="22" width="2" height="1" fill="#e0d0fa"/><rect x="4" y="31" width="1" height="1" fill="#e8dcfc"/><rect x="17" y="16" width="1" height="1" fill="#ceb2f2"/><rect x="10" y="17" width="1" height="1" fill="#c4a8ee"/><rect x="13" y="3" width="2" height="1" fill="#a888e0"/><rect x="12" y="18" width="1" height="1" fill="#e0d0fa"/><rect x="12" y="15" width="1" height="1" fill="#bca0ea"/><rect x="8" y="3" width="1" height="1" fill="#b494e6"/><rect x="21" y="8" width="1" height="1" fill="#b494e6"/><rect x="17" y="0" width="1" height="1" fill="#bca0ea"/><rect x="1" y="13" width="1" height="1" fill="#e8dcfc"/><rect x="1" y="31" width="1" height="1" fill="#a888e0"/><rect x="11" y="3" width="2" height="1" fill="#e0d0fa"/><rect x="2" y="5" width="1" height="1" fill="#bca0ea"/><rect x="31" y="25" width="2" height="1" fill="#e8dcfc"/><rect x="0" y="1" width="1" height="1" fill="#e8dcfc"/><rect x="3" y="26" width="1" height="1" fill="#ceb2f2"/><rect x="10" y="5" width="1" height="1" fill="#b494e6"/><rect x="13" y="9" width="1" height="1" fill="#ceb2f2"/><rect x="22" y="23" width="1" height="1" fill="#a888e0"/><rect x="9" y="21" width="1" height="1" fill="#c4a8ee"/><rect x="30" y="2" width="1" height="1" fill="#e0d0fa"/><rect x="29" y="17" width="1" height="1" fill="#e8dcfc"/><rect x="8" y="16" width="2" height="1" fill="#b494e6"/><rect x="6" y="23" width="1" height="1" fill="#c4a8ee"/><rect x="25" y="5" width="1" height="1" fill="#b494e6"/><rect x="7" y="3" width="1" height="1" fill="#ceb2f2"/><rect x="11" y="16" width="1" height="1" fill="#ceb2f2"/><rect x="9" y="11" width="1" height="1" fill="#e0d0fa"/><rect x="1" y="22" width="1" height="1" fill="#e0d0fa"/><rect x="28" y="31" width="1" height="1" fill="#c4a8ee"/><rect x="24" y="29" width="1" height="1" fill="#c4a8ee"/><rect x="1" y="6" width="1" height="1" fill="#bca0ea"/><rect x="4" y="25" width="1" height="1" fill="#bca0ea"/><rect x="3" y="14" width="2" height="1" fill="#ceb2f2"/><rect x="26" y="24" width="1" height="1" fill="#bca0ea"/><rect x="1" y="16" width="1" height="1" fill="#b494e6"/><rect x="27" y="15" width="1" height="1" fill="#c4a8ee"/><rect x="13" y="20" width="2" height="1" fill="#e0d0fa"/><rect x="17" y="19" width="1" height="1" fill="#a888e0"/><rect x="10" y="30" width="1" height="1" fill="#e0d0fa"/><rect x="8" y="19" width="1" height="1" fill="#e8dcfc"/><rect x="21" y="0" width="1" height="1" fill="#a888e0"/><rect x="10" y="20" width="2" height="1" fill="#bca0ea"/><rect x="13" y="3" width="1" height="1" fill="#e0d0fa"/><rect x="23" y="2" width="2" height="1" fill="#e0d0fa"/><rect x="11" y="27" width="1" height="1" fill="#e0d0fa"/><rect x="19" y="1" width="1" height="1" fill="#e0d0fa"/><rect x="9" y="0" width="1" height="1" fill="#c4a8ee"/><rect x="9" y="22" width="1" height="1" fill="#b494e6"/><rect x="29" y="25" width="2" height="1" fill="#b494e6"/><rect x="21" y="25" width="1" height="1" fill="#e8dcfc"/><rect x="15" y="12" width="1" height="1" fill="#e0d0fa"/><rect x="2" y="8" width="1" height="1" fill="#ceb2f2"/><rect x="27" y="6" width="1" height="1" fill="#bca0ea"/><rect x="3" y="20" width="1" height="1" fill="#b494e6"/><rect x="7" y="31" width="2" height="1" fill="#c4a8ee"/><rect x="0" y="11" width="1" height="1" fill="#c4a8ee"/><rect x="7" y="22" width="2" height="1" fill="#e0d0fa"/></pattern>
</defs>
<rect width="520" height="1144" fill="#ffffff"/>
<g font-family='"Liberation Sans", "DejaVu Sans", sans-serif' fill="#000">
<line x1="281" y1="2.9" x2="510" y2="2.9" stroke="#181c1c" stroke-width="1.2" stroke-dasharray="7 0.4"/>
<line x1="509.5" y1="3.3" x2="509.5" y2="353.6" stroke="#1c2a2a" stroke-width="1.5"/>
<line x1="324.0" y1="3.3" x2="324.0" y2="358.6" stroke="#000" stroke-width="2.2"/>
<line x1="361.2" y1="3.3" x2="361.2" y2="358.6" stroke="#000" stroke-width="2.2"/>
<line x1="398.5" y1="3.3" x2="398.5" y2="358.6" stroke="#000" stroke-width="2.2"/>
<line x1="435.8" y1="3.3" x2="435.8" y2="358.6" stroke="#000" stroke-width="2.2"/>
<line x1="473.1" y1="3.3" x2="473.1" y2="358.6" stroke="#000" stroke-width="2.2"/>
<line x1="509.3" y1="353.6" x2="509.3" y2="358.6" stroke="#000" stroke-width="2"/>
<rect x="286.7" y="13.6" width="26.1" height="15.5" fill="#0a000a"/>
<rect x="286.7" y="15.2" width="23.7" height="11.7" fill="url(#mye)"/>
<rect x="286.7" y="27.9" width="23.9" height="16.8" fill="#0a000a"/>
<rect x="286.7" y="29.5" width="21.5" height="13.0" fill="url(#pcl)"/>
<rect x="286.7" y="63.6" width="172.6" height="15.5" fill="#0a000a"/>
<rect x="286.7" y="65.2" width="170.2" height="11.7" fill="url(#mye)"/>
<rect x="286.7" y="113.6" width="14.1" height="15.5" fill="#0a000a"/>
<rect x="286.7" y="115.2" width="11.7" height="11.7" fill="url(#mye)"/>
<rect x="286.7" y="127.9" width="48.3" height="16.8" fill="#0a000a"/>
<rect x="286.7" y="129.5" width="45.9" height="13.0" fill="url(#pcl)"/>
<rect x="286.7" y="163.6" width="48.7" height="15.5" fill="#0a000a"/>
<rect x="286.7" y="165.2" width="46.3" height="11.7" fill="url(#mye)"/>
<rect x="289.8" y="178.8" width="1.2" height="14.5" fill="#333"/>
<rect x="286.7" y="213.6" width="53.7" height="15.5" fill="#0a000a"/>
<rect x="286.7" y="215.2" width="51.3" height="11.7" fill="url(#mye)"/>
<rect x="286.7" y="263.6" width="94.8" height="15.5" fill="#0a000a"/>
<rect x="286.7" y="265.2" width="92.4" height="11.7" fill="url(#mye)"/>
<rect x="286.7" y="277.9" width="24.9" height="16.8" fill="#0a000a"/>
<rect x="286.7" y="279.5" width="22.5" height="13.0" fill="url(#pcl)"/>
<rect x="286.7" y="313.6" width="192.9" height="15.5" fill="#0a000a"/>
<rect x="286.7" y="315.2" width="190.5" height="11.7" fill="url(#mye)"/>
<rect x="286.7" y="327.9" width="142.1" height="16.8" fill="#0a000a"/>
<rect x="286.7" y="329.5" width="139.7" height="13.0" fill="url(#pcl)"/>
<line x1="286.7" y1="1.9" x2="286.7" y2="359.1" stroke="#000" stroke-width="2.4"/>
<line x1="281.7" y1="353.6" x2="510" y2="353.6" stroke="#000" stroke-width="2.2"/>
<line x1="281.7" y1="2.8" x2="286.7" y2="2.8" stroke="#000" stroke-width="2"/>
<line x1="281.7" y1="53.3" x2="286.7" y2="53.3" stroke="#000" stroke-width="2"/>
<line x1="281.7" y1="103.3" x2="286.7" y2="103.3" stroke="#000" stroke-width="2"/>
<line x1="281.7" y1="153.3" x2="286.7" y2="153.3" stroke="#000" stroke-width="2"/>
<line x1="281.7" y1="203.3" x2="286.7" y2="203.3" stroke="#000" stroke-width="2"/>
<line x1="281.7" y1="253.3" x2="286.7" y2="253.3" stroke="#000" stroke-width="2"/>
<line x1="281.7" y1="303.3" x2="286.7" y2="303.3" stroke="#000" stroke-width="2"/>
<rect x="394.2" y="96.2" width="102.4" height="59.1" fill="#fff" stroke="#000" stroke-width="2.4"/>
<rect x="413.8" y="103.8" width="30.19999999999999" height="22.700000000000003" fill="#0a000a"/>
<rect x="415.6" y="105.6" width="26.399999999999988" height="18.900000000000002" fill="url(#mye)"/>
<rect x="413.8" y="129.5" width="30.19999999999999" height="21.30000000000001" fill="#0a000a"/>
<rect x="415.6" y="131.3" width="26.399999999999988" height="17.50000000000001" fill="url(#pcl)"/>
<text x="454" y="118" font-size="17.3" font-weight="bold" textLength="35" lengthAdjust="spacing">MYE</text>
<text x="455.2" y="145.5" font-size="17.3" font-weight="bold" textLength="31.5" lengthAdjust="spacing">PCL</text>
<text transform="translate(103.7,31.3) scale(1.1,1)" font-size="17.8" word-spacing="3" textLength="140.1" lengthAdjust="spacing">β-2 microglobulin</text>
<text transform="translate(130.3,82.8) scale(1.1,1)" font-size="17.8" word-spacing="1.5" textLength="116.3" lengthAdjust="spacing">Ig κ light chain</text>
<text transform="translate(157.5,135.8) scale(1.1,1)" font-size="17.8" textLength="89.5" lengthAdjust="spacing">MHC class I</text>
<text transform="translate(31.0,182.8) scale(1.1,1)" font-size="17.8" textLength="210.5" lengthAdjust="spacing">Ig heavy chain VDJ region</text>
<text transform="translate(211.0,235.5) scale(1.1,1)" font-size="17.8" textLength="51.4" lengthAdjust="spacing">IGHG4</text>
<text transform="translate(180.0,286.0) scale(1.1,1)" font-size="17.8" textLength="75.0" lengthAdjust="spacing">Ig J chain</text>
<text transform="translate(132.3,334.5) scale(1.1,1)" font-size="17.8" word-spacing="1.5" textLength="119.5" lengthAdjust="spacing">Ig λ light chain</text>
<text transform="translate(132.5,384.5) scale(1.1,1)" font-size="17.8" textLength="119.1" lengthAdjust="spacing">Frequency (%)</text>
<text class="d" x="282.6" y="386.1" font-size="18" textLength="11.4" lengthAdjust="spacingAndGlyphs">0</text>
<text class="d" x="319.9" y="386.1" font-size="18" textLength="11.4" lengthAdjust="spacingAndGlyphs">1</text>
<text class="d" x="357.1" y="386.1" font-size="18" textLength="11.4" lengthAdjust="spacingAndGlyphs">2</text>
<text class="d" x="394.4" y="386.1" font-size="18" textLength="11.4" lengthAdjust="spacingAndGlyphs">3</text>
<text class="d" x="431.7" y="386.1" font-size="18" textLength="11.4" lengthAdjust="spacingAndGlyphs">4</text>
<text class="d" x="468.9" y="386.1" font-size="18" textLength="11.4" lengthAdjust="spacingAndGlyphs">5</text>
<text class="d" x="506.2" y="386.1" font-size="18" textLength="11.4" lengthAdjust="spacingAndGlyphs">6</text>
<text x="30.8" y="26.0" font-size="31" font-weight="bold">A</text>
<line x1="281" y1="447.7" x2="508.8" y2="447.7" stroke="#181c1c" stroke-width="1.2" stroke-dasharray="7 0.4"/>
<line x1="508.0" y1="447.5" x2="508.0" y2="1115.2" stroke="#203232" stroke-width="1.4"/>
<line x1="331.1" y1="448.0" x2="331.1" y2="1119.7" stroke="#000" stroke-width="2.2"/>
<line x1="375.5" y1="448.0" x2="375.5" y2="1119.7" stroke="#000" stroke-width="2.2"/>
<line x1="419.9" y1="448.0" x2="419.9" y2="1119.7" stroke="#000" stroke-width="2.2"/>
<line x1="464.3" y1="448.0" x2="464.3" y2="1119.7" stroke="#000" stroke-width="2.2"/>
<line x1="508.3" y1="1115.2" x2="508.3" y2="1119.7" stroke="#000" stroke-width="2"/>
<rect x="286.7" y="455.3" width="36.8" height="13.0" fill="#0a000a"/>
<rect x="286.7" y="456.9" width="34.4" height="9.2" fill="url(#mye)"/>
<rect x="286.7" y="465.8" width="23.8" height="13.0" fill="#0a000a"/>
<rect x="286.7" y="468.4" width="21.4" height="8.2" fill="url(#pcl)"/>
<rect x="286.7" y="492.3" width="31.8" height="13.0" fill="#0a000a"/>
<rect x="286.7" y="493.9" width="29.4" height="9.2" fill="url(#mye)"/>
<rect x="286.7" y="502.8" width="39.3" height="13.0" fill="#0a000a"/>
<rect x="286.7" y="505.4" width="36.9" height="8.2" fill="url(#pcl)"/>
<rect x="286.7" y="529.3" width="41.8" height="13.0" fill="#0a000a"/>
<rect x="286.7" y="530.9" width="39.4" height="9.2" fill="url(#mye)"/>
<rect x="286.7" y="539.8" width="24.3" height="13.0" fill="#0a000a"/>
<rect x="286.7" y="542.4" width="21.9" height="8.2" fill="url(#pcl)"/>
<rect x="286.7" y="566.3" width="36.3" height="13.0" fill="#0a000a"/>
<rect x="286.7" y="567.9" width="33.9" height="9.2" fill="url(#mye)"/>
<rect x="286.7" y="576.8" width="31.3" height="13.0" fill="#0a000a"/>
<rect x="286.7" y="579.4" width="28.9" height="8.2" fill="url(#pcl)"/>
<rect x="286.7" y="603.3" width="41.8" height="13.0" fill="#0a000a"/>
<rect x="286.7" y="604.9" width="39.4" height="9.2" fill="url(#mye)"/>
<rect x="286.7" y="613.8" width="31.8" height="13.0" fill="#0a000a"/>
<rect x="286.7" y="616.4" width="29.4" height="8.2" fill="url(#pcl)"/>
<rect x="286.7" y="640.3" width="24.8" height="13.0" fill="#0a000a"/>
<rect x="286.7" y="641.9" width="22.4" height="9.2" fill="url(#mye)"/>
<rect x="286.7" y="650.8" width="54.8" height="13.0" fill="#0a000a"/>
<rect x="286.7" y="653.4" width="52.4" height="8.2" fill="url(#pcl)"/>
<rect x="286.7" y="677.3" width="18.8" height="13.0" fill="#0a000a"/>
<rect x="286.7" y="678.9" width="16.4" height="9.2" fill="url(#mye)"/>
<rect x="286.7" y="687.8" width="62.6" height="13.0" fill="#0a000a"/>
<rect x="286.7" y="690.4" width="60.2" height="8.2" fill="url(#pcl)"/>
<rect x="286.7" y="714.3" width="13.3" height="13.0" fill="#0a000a"/>
<rect x="286.7" y="715.9" width="10.9" height="9.2" fill="url(#mye)"/>
<rect x="286.7" y="724.8" width="69.8" height="13.0" fill="#0a000a"/>
<rect x="286.7" y="727.4" width="67.4" height="8.2" fill="url(#pcl)"/>
<rect x="286.7" y="761.8" width="92.8" height="13.0" fill="#0a000a"/>
<rect x="286.7" y="764.4" width="90.4" height="8.2" fill="url(#pcl)"/>
<rect x="286.7" y="788.3" width="78.8" height="13.0" fill="#0a000a"/>
<rect x="286.7" y="789.9" width="76.4" height="9.2" fill="url(#mye)"/>
<rect x="286.7" y="798.8" width="7.6" height="13.0" fill="#0a000a"/>
<rect x="286.7" y="801.4" width="5.2" height="8.2" fill="url(#pcl)"/>
<rect x="286.7" y="825.4" width="48.3" height="13.0" fill="#0a000a"/>
<rect x="286.7" y="827.0" width="45.9" height="9.2" fill="url(#mye)"/>
<rect x="286.7" y="835.9" width="54.8" height="13.0" fill="#0a000a"/>
<rect x="286.7" y="838.5" width="52.4" height="8.2" fill="url(#pcl)"/>
<rect x="286.7" y="862.6" width="48.3" height="13.0" fill="#0a000a"/>
<rect x="286.7" y="864.2" width="45.9" height="9.2" fill="url(#mye)"/>
<rect x="286.7" y="873.1" width="54.8" height="13.0" fill="#0a000a"/>
<rect x="286.7" y="875.7" width="52.4" height="8.2" fill="url(#pcl)"/>
<rect x="286.7" y="900.0" width="36.3" height="13.0" fill="#0a000a"/>
<rect x="286.7" y="901.6" width="33.9" height="9.2" fill="url(#mye)"/>
<rect x="286.7" y="910.5" width="76.8" height="13.0" fill="#0a000a"/>
<rect x="286.7" y="913.1" width="74.4" height="8.2" fill="url(#pcl)"/>
<rect x="286.7" y="937.1" width="42.6" height="13.0" fill="#0a000a"/>
<rect x="286.7" y="938.7" width="40.2" height="9.2" fill="url(#mye)"/>
<rect x="286.7" y="947.6" width="107.8" height="13.0" fill="#0a000a"/>
<rect x="286.7" y="950.2" width="105.4" height="8.2" fill="url(#pcl)"/>
<rect x="286.7" y="974.2" width="59.8" height="13.0" fill="#0a000a"/>
<rect x="286.7" y="975.8" width="57.4" height="9.2" fill="url(#mye)"/>
<rect x="286.7" y="984.7" width="84.8" height="13.0" fill="#0a000a"/>
<rect x="286.7" y="987.3" width="82.4" height="8.2" fill="url(#pcl)"/>
<rect x="286.7" y="1011.4" width="78.3" height="13.0" fill="#0a000a"/>
<rect x="286.7" y="1013.0" width="75.9" height="9.2" fill="url(#mye)"/>
<rect x="286.7" y="1021.9" width="68.8" height="13.0" fill="#0a000a"/>
<rect x="286.7" y="1024.5" width="66.4" height="8.2" fill="url(#pcl)"/>
<rect x="286.7" y="1048.5" width="78.3" height="13.0" fill="#0a000a"/>
<rect x="286.7" y="1050.1" width="75.9" height="9.2" fill="url(#mye)"/>
<rect x="286.7" y="1059.0" width="205.8" height="13.0" fill="#0a000a"/>
<rect x="286.7" y="1061.6" width="203.4" height="8.2" fill="url(#pcl)"/>
<rect x="286.7" y="1085.6" width="90.8" height="13.0" fill="#0a000a"/>
<rect x="286.7" y="1087.2" width="88.4" height="9.2" fill="url(#mye)"/>
<rect x="286.7" y="1096.1" width="198.3" height="13.0" fill="#0a000a"/>
<rect x="286.7" y="1098.7" width="195.9" height="8.2" fill="url(#pcl)"/>
<line x1="286.7" y1="447.5" x2="286.7" y2="1120.2" stroke="#000" stroke-width="2.4"/>
<line x1="280.7" y1="1114.8" x2="509" y2="1114.8" stroke="#000" stroke-width="2.2"/>
<line x1="280.7" y1="448.00" x2="286.7" y2="448.00" stroke="#000" stroke-width="2"/>
<line x1="280.7" y1="485.00" x2="286.7" y2="485.00" stroke="#000" stroke-width="2"/>
<line x1="280.7" y1="522.00" x2="286.7" y2="522.00" stroke="#000" stroke-width="2"/>
<line x1="280.7" y1="559.00" x2="286.7" y2="559.00" stroke="#000" stroke-width="2"/>
<line x1="280.7" y1="596.00" x2="286.7" y2="596.00" stroke="#000" stroke-width="2"/>
<line x1="280.7" y1="633.00" x2="286.7" y2="633.00" stroke="#000" stroke-width="2"/>
<line x1="280.7" y1="670.00" x2="286.7" y2="670.00" stroke="#000" stroke-width="2"/>
<line x1="280.7" y1="707.00" x2="286.7" y2="707.00" stroke="#000" stroke-width="2"/>
<line x1="280.7" y1="744.00" x2="286.7" y2="744.00" stroke="#000" stroke-width="2"/>
<line x1="280.7" y1="781.00" x2="286.7" y2="781.00" stroke="#000" stroke-width="2"/>
<line x1="280.7" y1="818.13" x2="286.7" y2="818.13" stroke="#000" stroke-width="2"/>
<line x1="280.7" y1="855.26" x2="286.7" y2="855.26" stroke="#000" stroke-width="2"/>
<line x1="280.7" y1="892.39" x2="286.7" y2="892.39" stroke="#000" stroke-width="2"/>
<line x1="280.7" y1="929.52" x2="286.7" y2="929.52" stroke="#000" stroke-width="2"/>
<line x1="280.7" y1="966.65" x2="286.7" y2="966.65" stroke="#000" stroke-width="2"/>
<line x1="280.7" y1="1003.78" x2="286.7" y2="1003.78" stroke="#000" stroke-width="2"/>
<line x1="280.7" y1="1040.91" x2="286.7" y2="1040.91" stroke="#000" stroke-width="2"/>
<line x1="280.7" y1="1078.04" x2="286.7" y2="1078.04" stroke="#000" stroke-width="2"/>
<line x1="280.7" y1="1115.17" x2="286.7" y2="1115.17" stroke="#000" stroke-width="2"/>
<rect x="396.5" y="492.2" width="101.1" height="59.1" fill="#fff" stroke="#000" stroke-width="2.4"/>
<rect x="415" y="499.5" width="30.5" height="21.799999999999955" fill="#0a000a"/>
<rect x="416.8" y="501.3" width="26.7" height="17.999999999999954" fill="url(#mye)"/>
<rect x="415" y="525.5" width="30.5" height="20.799999999999955" fill="#0a000a"/>
<rect x="416.8" y="527.3" width="26.7" height="16.999999999999954" fill="url(#pcl)"/>
<text x="455.8" y="513.8" font-size="17.3" font-weight="bold" textLength="35.5" lengthAdjust="spacing">MYE</text>
<text x="457.0" y="542" font-size="17.3" font-weight="bold" textLength="31.5" lengthAdjust="spacing">PCL</text>
<text transform="translate(211.3,477.0) scale(1.05,1)" font-size="17" word-spacing="1.8" textLength="49.9" lengthAdjust="spacing" xml:space="preserve">H3.3A</text>
<text transform="translate(198.8,512.5) scale(1.05,1)" font-size="17" word-spacing="1.8" textLength="61.1" lengthAdjust="spacing" xml:space="preserve">GNB2L1</text>
<text transform="translate(200.5,550.0) scale(1.05,1)" font-size="17" word-spacing="1.8" textLength="58.4" lengthAdjust="spacing" xml:space="preserve">EEF1B2</text>
<text transform="translate(209.3,585.0) scale(1.05,1)" font-size="17" word-spacing="1.8" textLength="53.6" lengthAdjust="spacing" xml:space="preserve">CXCR4</text>
<text transform="translate(143.0,618.0) scale(1.05,1)" font-size="17" word-spacing="1.8" textLength="112.6" lengthAdjust="spacing" xml:space="preserve">Prothymosin <tspan font-weight="bold">α</tspan></text>
<text transform="translate(40.5,659.0) scale(1.05,1)" font-size="17" word-spacing="1.8" textLength="208.9" lengthAdjust="spacing" xml:space="preserve">Heat shock 70kD protein 8</text>
<text transform="translate(218.5,697.3) scale(1.05,1)" font-size="17" word-spacing="1.8" textLength="43.3" lengthAdjust="spacing" xml:space="preserve">DDX5</text>
<text transform="translate(168.5,732.0) scale(1.05,1)" font-size="17" word-spacing="1.8" textLength="87.9" lengthAdjust="spacing" xml:space="preserve">Annexin A2</text>
<text transform="translate(184.3,771.3) scale(1.05,1)" font-size="17" word-spacing="1.8" textLength="73.7" lengthAdjust="spacing" xml:space="preserve">Cyclin D2</text>
<text transform="translate(128.5,806.3) scale(1.05,1)" font-size="17" word-spacing="1.8" textLength="125.0" lengthAdjust="spacing" xml:space="preserve">Ferritin   L chain</text>
<text transform="translate(92.5,844.8) scale(1.05,1)" font-size="17" word-spacing="1.8" textLength="160.3" lengthAdjust="spacing" xml:space="preserve">Elongation factor 1 <tspan font-weight="bold">γ</tspan></text>
<text transform="translate(37.5,884.2) scale(1.05,1)" font-size="17" word-spacing="1.8" textLength="215.7" lengthAdjust="spacing" xml:space="preserve">Heat shock 70 kD protein 5</text>
<text transform="translate(220.8,917.2) scale(1.05,1)" font-size="17" word-spacing="1.8" textLength="39.6" lengthAdjust="spacing" xml:space="preserve">RGS1</text>
<text transform="translate(219.8,954.8) scale(1.05,1)" font-size="17" word-spacing="1.8" textLength="41.3" lengthAdjust="spacing" xml:space="preserve">TRA1</text>
<text transform="translate(188.5,995.0) scale(1.05,1)" font-size="17" word-spacing="1.8" textLength="70.2" lengthAdjust="spacing" xml:space="preserve">TSC-22R</text>
<text transform="translate(221.5,1032.6) scale(1.05,1)" font-size="17" word-spacing="1.8" textLength="39.8" lengthAdjust="spacing" xml:space="preserve">TPT1</text>
<text transform="translate(3.8,1066.3) scale(1.05,1)" font-size="17" word-spacing="1.8" textLength="244.0" lengthAdjust="spacing" xml:space="preserve">Hypothetical protein MGC:3178</text>
<text transform="translate(86.6,1101.3) scale(1.05,1)" font-size="17" word-spacing="3.2" textLength="163.7" lengthAdjust="spacing" xml:space="preserve">Elongation factor 1 α</text>
<text transform="translate(147.0,1136.8) scale(1.05,1)" font-size="17" word-spacing="1.8" textLength="109.7" lengthAdjust="spacing" xml:space="preserve">Frequency(%)</text>
<text x="281.8" y="1140.3" font-size="18">0</text>
<text x="318.6" y="1140.3" font-size="18" textLength="27.6" lengthAdjust="spacing">0.2</text>
<text x="363.6" y="1140.3" font-size="18" textLength="27.6" lengthAdjust="spacing">0.4</text>
<text x="408.6" y="1140.3" font-size="18" textLength="27.6" lengthAdjust="spacing">0.6</text>
<text x="453.6" y="1140.3" font-size="18" textLength="27.6" lengthAdjust="spacing">0.8</text>
<text x="503.8" y="1140.3" font-size="18">1</text>
<text x="0.8" y="468.6" font-size="31.5" font-weight="bold">B</text>
</g></svg>
</body></html>
